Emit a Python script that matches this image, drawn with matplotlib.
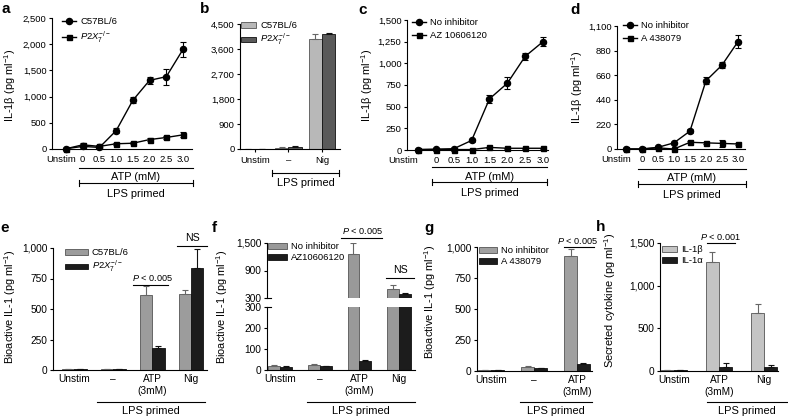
import numpy as np
import matplotlib.pyplot as plt
from matplotlib.lines import Line2D
from matplotlib.patches import Patch
from matplotlib.ticker import FuncFormatter
from matplotlib.transforms import ScaledTranslation

plt.rcParams['font.family'] = ['Liberation Sans', 'DejaVu Sans']
plt.rcParams['mathtext.fontset'] = 'custom'
plt.rcParams['mathtext.rm'] = 'Liberation Sans'
plt.rcParams['mathtext.it'] = 'Liberation Sans:italic'
plt.rcParams['mathtext.bf'] = 'Liberation Sans:bold'
plt.rcParams['font.size'] = 7
plt.rcParams['axes.linewidth'] = 0.8

W, H = 788, 416
TOP_TICK = 6.8     # taille des graduations, rangée du haut
BOT_TICK = 7.3     # rangée du bas
LAB = 7.9          # titres d'axes, "LPS primed", "ATP (mM)"
LEG = 6.8

# ---- données ----
atp_cats = ["Unstim", "0", "0.5", "1.0", "1.5", "2.0", "2.5", "3.0"]

a_wt = [5, 50, 30, 350, 930, 1310, 1380, 1900]
a_wt_err = [10, 20, 15, 50, 60, 70, 150, 150]
a_ko = [5, 80, 50, 100, 110, 180, 220, 270]
a_ko_err = [10, 30, 20, 20, 20, 30, 30, 50]

b_cats = ["Unstim", "–", "Nig"]
b_wt = [10, 50, 3950]
b_wt_err = [5, 30, 200]
b_ko = [10, 80, 4150]
b_ko_err = [5, 30, 20]

c_noinh = [5, 10, 15, 110, 590, 770, 1080, 1250]
c_noinh_err = [5, 5, 5, 15, 50, 70, 40, 50]
c_az = [5, 5, 5, 5, 30, 20, 20, 20]
c_az_err = [3, 3, 3, 3, 10, 5, 5, 5]

d_noinh = [0, 0, 15, 55, 160, 610, 750, 960]
d_noinh_err = [2, 2, 5, 8, 15, 30, 30, 60]
d_a43 = [0, 0, 10, 0, 60, 55, 50, 45]
d_a43_err = [2, 2, 3, 2, 8, 8, 30, 8]

e_cats = ["Unstim", "–", "ATP\n(3mM)", "Nig"]
e_wt = [5, 5, 615, 623]
e_wt_err = [3, 3, 70, 33]
e_ko = [5, 8, 180, 836]
e_ko_err = [2, 3, 17, 155]

f_cats = ["Unstim", "–", "ATP\n(3mM)", "Nig"]
f_noinh = [20, 25, 1270, 500]
f_noinh_err = [3, 3, 230, 85]
f_az = [15, 17, 45, 390]
f_az_err = [2, 2, 5, 25]

g_cats = ["Unstim", "–", "ATP\n(3mM)"]
g_noinh = [5, 35, 927]
g_noinh_err = [2, 3, 57]
g_a43 = [8, 25, 60]
g_a43_err = [2, 3, 5]

h_cats = ["Unstim", "ATP\n(3mM)", "Nig"]
h_il1b = [10, 1277, 680]
h_il1b_err = [3, 118, 105]
h_il1a = [10, 50, 45]
h_il1a_err = [3, 40, 30]

ko_label = '$P2X_7^{-/-}$'
il1b_label = 'IL-1β (pg ml$^{-1}$)'
bio_label = 'Bioactive IL-1 (pg ml$^{-1}$)'

fig = plt.figure(figsize=(W / 100, H / 100), dpi=100)


# positions en pixels (gauche, haut, droite, bas)
def box(l, t, r, b):
    return [l / W, 1 - b / H, (r - l) / W, (b - t) / H]


def P(x, y):
    return x / W, 1 - y / H


def ftext(x, y, s, **kw):
    kw.setdefault('ha', 'center')
    kw.setdefault('va', 'center')
    kw.setdefault('fontsize', LAB)
    fig.text(*P(x, y), s, **kw)


def fline(x0, x1, y, caps=False):
    fig.add_artist(Line2D([x0 / W, x1 / W], [1 - y / H] * 2, color='k', lw=0.8))
    if caps:
        for x in (x0, x1):
            fig.add_artist(Line2D([x / W] * 2, [1 - (y - 3) / H, 1 - (y + 3) / H],
                                  color='k', lw=0.8))


def style(ax, xlim, ylim, yticks, size):
    ax.spines[['top', 'right']].set_visible(False)
    ax.set_xlim(xlim)
    ax.set_ylim(ylim)
    ax.set_yticks(yticks)
    ax.yaxis.set_major_formatter(FuncFormatter(lambda v, p: f'{v:,.0f}'))
    ax.tick_params(axis='y', length=2.5, width=0.8, pad=1.5, labelsize=size)
    ax.tick_params(axis='x', length=0, width=0.8, pad=4, labelsize=size)
    ax.patch.set_alpha(0)


def leg(ax, handles, labels, xy, **kw):
    opts = dict(loc='upper left', bbox_to_anchor=P(*xy), bbox_transform=fig.transFigure,
                frameon=False, borderpad=0, borderaxespad=0, handletextpad=0.45,
                labelspacing=0.35, fontsize=LEG)
    opts.update(kw)
    ax.legend(handles, labels, **opts)


def line_panel(rect, xlim, ylim, yticks, y1, e1, y2, e2, labels, leg_xy, unstim_dx):
    ax = fig.add_axes(box(*rect))
    x = np.arange(len(atp_cats))
    ax.errorbar(x, y2, yerr=e2, color='k', marker='s', ms=3.6, lw=1.0,
                elinewidth=0.8, capsize=2.4, capthick=0.8, clip_on=False, zorder=3)
    ax.errorbar(x, y1, yerr=e1, color='k', marker='o', ms=4.4, lw=1.0,
                elinewidth=0.8, capsize=2.4, capthick=0.8, clip_on=False, zorder=4)
    style(ax, xlim, ylim, yticks, TOP_TICK)
    ax.set_xticks(x, atp_cats)
    # décaler l'étiquette "Unstim" vers la gauche comme dans l'original
    lbl = ax.get_xticklabels()[0]
    lbl.set_transform(lbl.get_transform() +
                      ScaledTranslation(unstim_dx / 100, 0, fig.dpi_scale_trans))
    hs = [Line2D([], [], color='k', marker='o', ms=4.4, lw=1.0),
          Line2D([], [], color='k', marker='s', ms=3.6, lw=1.0)]
    leg(ax, hs, labels, leg_xy, handlelength=1.5, labelspacing=0.45)
    return ax


def draw_bars(ax, v1, e1, v2, e2, c1, c2, w):
    x = np.arange(len(v1))
    z = np.zeros(len(v1))
    ax.bar(x - w / 2, v1, w, color=c1, edgecolor='#555555', lw=0.6)
    ax.bar(x + w / 2, v2, w, color=c2, edgecolor='#111111', lw=0.6)
    ax.errorbar(x - w / 2, v1, yerr=[z, e1], fmt='none', ecolor='#666666',
                elinewidth=0.8, capsize=2, capthick=0.8)
    ax.errorbar(x + w / 2, v2, yerr=[z, e2], fmt='none', ecolor='#111111',
                elinewidth=0.8, capsize=2, capthick=0.8)


def bar_legend(ax, c1, c2, labels, xy, hl):
    hs = [Patch(facecolor=c1, edgecolor='#555555', lw=0.6),
          Patch(facecolor=c2, edgecolor='#111111', lw=0.6)]
    leg(ax, hs, labels, xy, handlelength=hl, handleheight=0.55, labelspacing=0.25)


# ---------------- a ----------------
line_panel((52, 18, 192, 149), (-0.84, 7.54), (0, 2500), range(0, 2501, 500),
           a_wt, a_wt_err, a_ko, a_ko_err, ['C57BL/6', ko_label], (62, 17), -5)
ftext(10, 85, il1b_label, rotation=90)
fline(79, 193, 168)
ftext(136, 177, 'ATP (mM)')
fline(79, 193, 183, caps=True)
ftext(136, 194, 'LPS primed')

# ---------------- b ----------------
ax = fig.add_axes(box(240, 24, 340, 149))
draw_bars(ax, b_wt, b_wt_err, b_ko, b_ko_err, '#b8b8b8', '#5a5a5a', 0.4)
style(ax, (-0.45, 2.54), (0, 4500), range(0, 4501, 900), TOP_TICK)
ax.set_xticks(range(len(b_cats)), b_cats)
ax.tick_params(axis='x', length=2.5, pad=2.5)
bar_legend(ax, '#b8b8b8', '#5a5a5a', ['C57BL/6', ko_label], (241, 21), 1.6)
fline(272, 339, 173, caps=True)
ftext(306, 183, 'LPS primed')

# ---------------- c ----------------
line_panel((407, 20, 548, 150), (-0.62, 7.28), (0, 1500), range(0, 1501, 250),
           c_noinh, c_noinh_err, c_az, c_az_err, ['No inhibitor', 'AZ 10606120'], (412, 18), -15)
ftext(367, 85, il1b_label, rotation=90)
fline(432, 547, 167)
ftext(490, 177, 'ATP (mM)')
fline(432, 547, 182, caps=True)
ftext(490, 193, 'LPS primed')

# ---------------- d ----------------
line_panel((617, 26, 745, 149), (-0.56, 7.44), (0, 1100), range(0, 1101, 220),
           d_noinh, d_noinh_err, d_a43, d_a43_err, ['No inhibitor', 'A 438079'], (623, 21), -10)
ftext(577, 87, il1b_label, rotation=90)
fline(638, 746, 169)
ftext(692, 178, 'ATP (mM)')
fline(638, 746, 184, caps=True)
ftext(692, 195, 'LPS primed')

# ---------------- e ----------------
ax = fig.add_axes(box(53, 248, 207, 370))
draw_bars(ax, e_wt, e_wt_err, e_ko, e_ko_err, '#9c9c9c', '#1c1c1c', 0.32)
style(ax, (-0.54, 3.41), (0, 1000), range(0, 1001, 250), BOT_TICK)
ax.set_xticks(range(len(e_cats)), e_cats, linespacing=1.2)
ax.tick_params(axis='x', pad=3)
bar_legend(ax, '#9c9c9c', '#1c1c1c', ['C57BL/6', ko_label], (65, 248), 2.4)
ftext(10, 307, bio_label, rotation=90)
fline(133, 168, 285)
ftext(152, 278, '$P$ < 0.005', fontsize=6.6)
fline(177, 207, 246)
ftext(192, 238, 'NS', fontsize=7.6)
fline(97, 205, 402)
ftext(151, 411, 'LPS primed')

# ---------------- f (axe coupé) ----------------
f_xlim = (-0.33, 3.40)
ft = fig.add_axes(box(267, 243, 415, 298))
fb = fig.add_axes(box(267, 307, 415, 370))
for ax in (ft, fb):
    draw_bars(ax, f_noinh, f_noinh_err, f_az, f_az_err, '#999999', '#1c1c1c', 0.30)
style(ft, f_xlim, (300, 1500), [300, 900, 1500], BOT_TICK)
ft.spines['bottom'].set_visible(False)
ft.set_xticks([])
style(fb, f_xlim, (0, 300), [0, 100, 200, 300], BOT_TICK)
fb.set_xticks(range(len(f_cats)), f_cats, linespacing=1.2)
fb.tick_params(axis='x', pad=3)
fline(267, 271, 298)
fline(267, 271, 307)
bar_legend(ft, '#999999', '#1c1c1c', ['No inhibitor', 'AZ10606120'], (268, 242), 2.0)
ftext(222, 307, bio_label, rotation=90)
fline(341, 382, 238)
ftext(362, 231, '$P$ < 0.005', fontsize=6.6)
fline(386, 414, 278)
ftext(400, 270, 'NS', fontsize=7.6)
fline(307, 415, 402)
ftext(361, 411, 'LPS primed')

# ---------------- g ----------------
ax = fig.add_axes(box(477, 247, 592, 371))
draw_bars(ax, g_noinh, g_noinh_err, g_a43, g_a43_err, '#a0a0a0', '#1c1c1c', 0.30)
style(ax, (-0.33, 2.35), (0, 1000), range(0, 1001, 250), BOT_TICK)
ax.set_xticks(range(len(g_cats)), g_cats, linespacing=1.2)
ax.tick_params(axis='x', pad=3)
bar_legend(ax, '#a0a0a0', '#1c1c1c', ['No inhibitor', 'A 438079'], (479, 246), 1.9)
ftext(430, 302, bio_label, rotation=90)
fline(564, 594, 247)
ftext(577, 241, '$P$ < 0.005', fontsize=6.6)
fline(520, 592, 402)
ftext(556, 411, 'LPS primed')

# ---------------- h ----------------
ax = fig.add_axes(box(660, 243, 778, 371))
draw_bars(ax, h_il1b, h_il1b_err, h_il1a, h_il1a_err, '#c4c4c4', '#1c1c1c', 0.29)
style(ax, (-0.31, 2.31), (0, 1500), range(0, 1501, 500), BOT_TICK)
ax.set_xticks(range(len(h_cats)), h_cats, linespacing=1.2)
ax.tick_params(axis='x', pad=3)
bar_legend(ax, '#c4c4c4', '#1c1c1c', ['IL-1β', 'IL-1α'], (662, 245), 1.6)
ftext(610, 300, 'Secreted cytokine (pg ml$^{-1}$)', rotation=90)
fline(707, 735, 243)
ftext(720, 237, '$P$ < 0.001', fontsize=6.6)
fline(707, 787, 402)
ftext(747, 411, 'LPS primed')

# lettres des panneaux
for s, x, y in [('a', 6, 9), ('b', 205, 9), ('c', 363, 10), ('d', 575, 10),
                ('e', 5, 228), ('f', 214, 228), ('g', 429, 228), ('h', 601, 227)]:
    ftext(x, y, s, fontsize=11, fontweight='bold')

fig.savefig('out.png', dpi=100)
